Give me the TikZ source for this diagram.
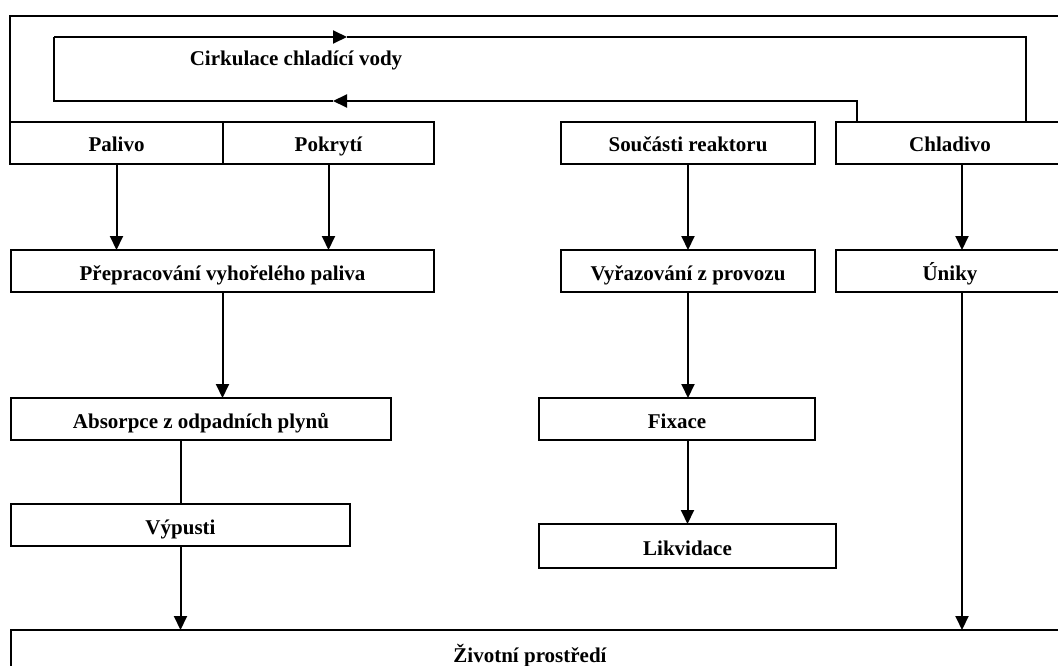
\documentclass[tikz,border=0pt]{standalone}
\usepackage{fontspec}
\setmainfont{Liberation Serif}
\usetikzlibrary{arrows.meta}
\begin{document}
\begin{tikzpicture}[x=1pt,y=-1pt,
  box/.style={draw, line width=2pt, anchor=north west, inner sep=0pt, outer sep=0pt,
    text height=18pt, text depth=0pt,
    font=\fontsize{21}{23}\selectfont\bfseries},
  ln/.style={line width=2pt},
  arr/.style={line width=2pt, -{Triangle[width=13pt,length=14pt]}},
  lbl/.style={font=\fontsize{21}{23}\selectfont\bfseries, inner sep=0pt, text height=18pt, text depth=0pt}]
\useasboundingbox (0,0) rectangle (1058,666);
\clip (0,0) rectangle (1058,666);
% outer frame
\coordinate (fb) at (10,122);
\coordinate (ftl) at (10,16);
\coordinate (ftr) at (1080,16);
\draw[ln] (fb) -- (ftl) -- (ftr);
% row 1
\node[box, minimum width=213pt, minimum height=42pt] (pal) at (10,122) {Palivo};
\node[box, minimum width=211pt, minimum height=42pt] (pok) at (223,122) {Pokrytí};
\node[box, minimum width=254pt, minimum height=42pt] (sou) at (561,122) {Součásti reaktoru};
\node[box, minimum width=228pt, minimum height=42pt] (chl) at (836,122) {Chladivo};
% circulation loop
\node[lbl] (cir) at (296,57) {Cirkulace chladící vody};
\coordinate (rb) at (857,101);
\coordinate (mb) at (333,101);
\coordinate (lb) at (54,101);
\coordinate (lt) at (54,37);
\coordinate (mt) at (347,37);
\coordinate (rt) at (1026,37);
\draw[arr] (chl.north -| rb) -- (rb) -- (mb);
\draw[ln] (mb) -- (lb) -- (lt);
\draw[arr] (lt) -- (mt);
\draw[ln] (mt) -- (rt) -- (chl.north -| rt);
% row 2
\node[box, minimum width=423pt, minimum height=42pt] (pre) at (11,250) {Přepracování vyhořelého paliva};
\node[box, minimum width=254pt, minimum height=42pt] (vyr) at (561,250) {Vyřazování z provozu};
\node[box, minimum width=228pt, minimum height=42pt] (uni) at (836,250) {Úniky};
% row 3
\node[box, minimum width=380pt, minimum height=42pt] (abs) at (11,398) {Absorpce z odpadních plynů};
\node[box, minimum width=276pt, minimum height=42pt] (fix) at (539,398) {Fixace};
% row 4
\node[box, minimum width=339pt, minimum height=42pt] (vyp) at (11,504) {Výpusti};
\node[box, minimum width=297pt, minimum height=44pt] (lik) at (539,524) {Likvidace};
% bottom
\node[box, minimum width=1080pt, minimum height=50pt] (ziv) at (11,630) {};
\node[lbl] (zivt) at (530,653) {Životní prostředí};
% connectors
\coordinate (cx) at (962,0);
\draw[arr] (pal.south) -- (pal.south |- pre.north);
\draw[arr] (pok.south) -- (pok.south |- pre.north);
\draw[arr] (pre.south) -- (pre.south |- abs.north);
\draw[ln] (vyp.north |- abs.south) -- (vyp.north);
\draw[arr] (vyp.south) -- (vyp.south |- ziv.north);
\draw[arr] (sou.south) -- (vyr.north);
\draw[arr] (vyr.south) -- (vyr.south |- fix.north);
\draw[arr] (lik.north |- fix.south) -- (lik.north);
\draw[arr] (chl.south -| cx) -- (uni.north -| cx);
\draw[arr] (uni.south -| cx) -- (ziv.north -| cx);
\end{tikzpicture}
\end{document}
